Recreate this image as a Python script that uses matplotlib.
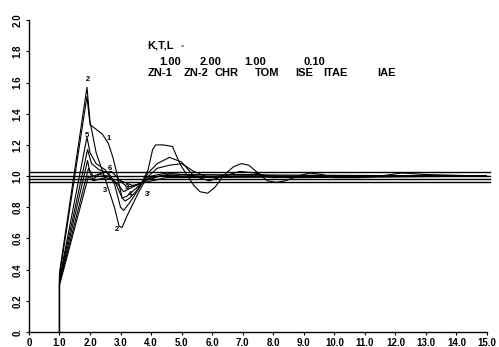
import matplotlib
matplotlib.use("Agg")
import matplotlib.pyplot as plt

plt.rcParams["font.family"] = ["Liberation Sans Narrow", "Liberation Sans", "DejaVu Sans"]

# step responses: (time, output) pairs
T_ZN1 = [1.0, 1.0, 1.9, 2.0, 2.2, 2.4, 2.6, 2.75, 2.85, 2.95, 3.05, 3.15, 3.3, 3.5, 3.7, 3.9,
         4.05, 4.15, 4.4, 4.7, 4.85, 5.0, 5.2, 5.4, 5.6, 5.85, 6.1, 6.4, 6.7, 6.95, 7.2, 7.5,
         7.8, 8.1, 8.4, 8.8, 9.2, 9.6, 10.0, 10.8, 11.5, 12.2, 13.0, 15.0]
Y_ZN1 = [0, 0.36, 1.51, 1.33, 1.30, 1.27, 1.21, 1.12, 1.04, 0.95, 0.86, 0.84, 0.86, 0.90, 0.96, 1.04,
         1.17, 1.20, 1.20, 1.19, 1.12, 1.06, 1.00, 0.94, 0.90, 0.89, 0.93, 1.01, 1.06, 1.08, 1.07, 1.02,
         0.97, 0.96, 0.97, 1.00, 1.02, 1.01, 0.99, 0.99, 1.00, 1.02, 1.01, 1.00]

T_ZN2 = [1.0, 1.0, 1.9, 2.0, 2.2, 2.5, 2.8, 2.95, 3.05, 3.2, 3.4, 3.6, 3.8, 4.0, 4.5, 5.0, 6.0,
         7.0, 8.0, 15.0]
Y_ZN2 = [0, 0.38, 1.57, 1.35, 1.15, 0.98, 0.80, 0.68, 0.67, 0.74, 0.82, 0.90, 0.97, 1.00, 1.02,
         1.01, 0.99, 1.00, 1.00, 1.00]

T_CHR = [1.0, 1.0, 1.9, 2.0, 2.2, 2.5, 2.8, 3.0, 3.1, 3.3, 3.6, 3.9, 4.2, 4.6, 5.0, 5.4, 5.9,
         6.4, 6.9, 7.4, 8.0, 9.0, 15.0]
Y_CHR = [0, 0.34, 1.25, 1.15, 1.08, 1.04, 0.95, 0.80, 0.78, 0.83, 0.92, 1.02, 1.08, 1.12, 1.09,
         1.00, 0.97, 1.00, 1.03, 1.02, 0.99, 1.00, 1.00]

T_TOM = [1.0, 1.0, 1.92, 2.05, 2.3, 2.6, 2.85, 3.05, 3.2, 3.5, 3.8, 4.2, 4.6, 5.0, 5.4, 5.9,
         6.5, 7.5, 8.5, 15.0]
Y_TOM = [0, 0.33, 1.17, 1.08, 1.04, 1.02, 0.95, 0.86, 0.87, 0.92, 0.98, 1.05, 1.07, 1.08, 1.03,
         0.99, 1.01, 1.01, 0.99, 1.00]

T_ISE = [1.0, 1.0, 1.92, 2.0, 2.1, 2.3, 2.6, 2.9, 3.1, 3.3, 3.6, 4.0, 4.5, 5.0, 15.0]
Y_ISE = [0, 0.32, 1.10, 1.02, 0.98, 1.01, 1.00, 0.95, 0.90, 0.92, 0.95, 0.99, 1.01, 1.00, 1.00]

T_ITAE = [1.0, 1.0, 1.95, 2.1, 2.4, 2.7, 2.95, 3.2, 3.5, 3.8, 4.3, 5.0, 15.0]
Y_ITAE = [0, 0.31, 1.05, 1.00, 1.02, 1.03, 0.98, 0.93, 0.94, 0.97, 1.00, 1.01, 1.00]

T_IAE = [1.0, 1.0, 1.95, 2.1, 2.5, 3.0, 3.4, 3.8, 4.5, 15.0]
Y_IAE = [0, 0.30, 1.00, 0.97, 0.99, 0.97, 0.94, 0.96, 0.99, 1.00]

BAND_LEVELS = [1.025, 1.0, 0.98, 0.96]

X_TICKS = [0, 1, 2, 3, 4, 5, 6, 7, 8, 9, 10, 11, 12, 13, 14, 15]
X_LABELS = ["0", "1.0", "2.0", "3.0", "4.0", "5.0", "6.0", "7.0", "8.0", "9.0", "10.0",
            "11.0", "12.0", "13.0", "14.0", "15.0"]
Y_TICKS = [0, 0.2, 0.4, 0.6, 0.8, 1.0, 1.2, 1.4, 1.6, 1.8, 2.0]
Y_LABELS = ["0.", "0.2", "0.4", "0.6", "0.8", "1.0", "1.2", "1.4", "1.6", "1.8", "2.0"]

PARAMS = ["1.00", "2.00", "1.00", "0.10"]
METHODS = ["ZN-1", "ZN-2", "CHR", "TOM", "ISE", "ITAE", "IAE"]

# curve tags as printed on the scan: (text, t, y)
TAGS = [("2", 1.93, 1.62), ("1", 2.62, 1.24), ("5", 1.9, 1.26), ("6", 2.65, 1.05),
        ("3", 2.5, 0.91), ("3", 3.2, 0.93), ("4", 3.3, 0.88), ("3'", 3.9, 0.88),
        ("2", 2.87, 0.66)]

fig = plt.figure(figsize=(4.99, 3.47), dpi=100)
ax = fig.add_axes([0.058, 0.043, 0.918, 0.899])

for lvl in BAND_LEVELS:
    ax.plot([0, 15.1], [lvl, lvl], color="black", lw=1.0, clip_on=False)

for t, y in [(T_ZN1, Y_ZN1), (T_ZN2, Y_ZN2), (T_CHR, Y_CHR), (T_TOM, Y_TOM),
             (T_ISE, Y_ISE), (T_ITAE, Y_ITAE), (T_IAE, Y_IAE)]:
    ax.plot(t, y, color="black", lw=0.8)

for s, t, y in TAGS:
    ax.text(t, y, s, fontsize=5.5, ha="center", va="center", fontweight="bold")

ax.set_xlim(0, 15)
ax.set_ylim(0, 2.0)
ax.set_xticks(X_TICKS)
ax.set_xticklabels(X_LABELS, fontsize=7, fontweight="bold")
ax.set_yticks(Y_TICKS)
ax.set_yticklabels(Y_LABELS, fontsize=7, fontweight="bold", rotation=90, va="center")
ax.tick_params(length=2.5, width=0.8, pad=2)
for side in ["top", "right"]:
    ax.spines[side].set_visible(False)
for side in ["left", "bottom"]:
    ax.spines[side].set_linewidth(1.0)

ax.text(0.259, 0.92, "K,T,L", transform=ax.transAxes, fontsize=8, va="center", fontweight="bold")
ax.text(0.332, 0.915, "=", transform=ax.transAxes, fontsize=4, va="center")
px = [0.285, 0.373, 0.47, 0.6]
for x, s in zip(px, PARAMS):
    ax.text(x, 0.865, s, transform=ax.transAxes, fontsize=8, va="center", fontweight="bold")
mx = [0.259, 0.337, 0.406, 0.493, 0.581, 0.642, 0.76]
for x, s in zip(mx, METHODS):
    ax.text(x, 0.83, s, transform=ax.transAxes, fontsize=8, va="center", fontweight="bold")

fig.savefig("out.png", dpi=100)
